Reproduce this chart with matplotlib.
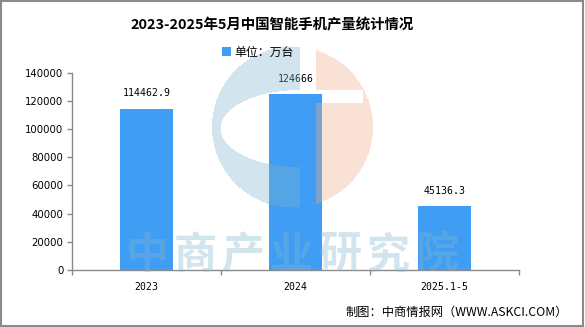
import matplotlib
matplotlib.use("Agg")
import matplotlib.pyplot as plt
from matplotlib.patches import Rectangle
import numpy as np

plt.rcParams['font.family'] = ['Noto Sans CJK SC', 'DejaVu Sans']

# data
categories = ['2023', '2024', '2025.1-5']
values = [114462.9, 124666, 45136.3]
value_labels = ['114462.9', '124666', '45136.3']
y_ticks = [0, 20000, 40000, 60000, 80000, 100000, 120000, 140000]

W, H = 585, 327
BAR_COLOR = '#3f9ef4'
AXIS_GRAY = '#8a8a8a'
MONO = 'DejaVu Sans Mono'

fig = plt.figure(figsize=(W / 100, H / 100), dpi=100)
fig.patch.set_facecolor('white')

ax = fig.add_axes([72 / W, 1 - 270 / H, (519 - 72) / W, (270 - 72.7) / H])
x = np.arange(len(categories))
bars = ax.bar(x, values, width=0.355, color=BAR_COLOR, zorder=2, label='单位：万台')

for xi, v, lab in zip(x, values, value_labels):
    ax.annotate(lab, (xi, v), textcoords='offset points', xytext=(0, 7.5),
                ha='center', va='bottom', fontsize=7.1, family=MONO)

ax.set_xlim(-0.5, len(categories) - 0.5)
ax.set_ylim(0, 140000)
ax.set_yticks(y_ticks)
ax.set_yticklabels([str(t) for t in y_ticks], fontsize=7.3, family='DejaVu Sans')
ax.set_xticks(x)
ax.set_xticklabels(categories, fontsize=7.1, family=MONO)
ax.set_xticks(np.arange(-0.5, len(categories)), minor=True)
ax.tick_params(axis='x', which='major', length=0, pad=8.5)
ax.tick_params(axis='x', which='minor', length=3.6, color=AXIS_GRAY, width=1)
ax.tick_params(axis='y', length=3.6, color=AXIS_GRAY, width=1, pad=2.5)
for s in ['top', 'right']:
    ax.spines[s].set_visible(False)
for s in ['left', 'bottom']:
    ax.spines[s].set_color(AXIS_GRAY)
    ax.spines[s].set_linewidth(1)
ax.set_facecolor('none')

# title, legend, source
fig.text(272 / W, 1 - 25.5 / H, '2023-2025年5月中国智能手机产量统计情况',
         ha='center', va='center', fontsize=10.4, fontweight='bold')
fig.legend(handles=[bars], labels=['单位：万台'], loc='center',
           bbox_to_anchor=(258 / W, 1 - 52.5 / H), frameon=False, fontsize=8.6,
           handlelength=0.75, handleheight=0.75, handletextpad=0.3, borderpad=0)
fig.text(568 / W, 1 - 312.5 / H, '制图：中商情报网（WWW.ASKCI.COM）',
         ha='right', va='center', fontsize=8.8)

# watermark overlay
wm = fig.add_axes([0, 0, 1, 1], zorder=5)
wm.set_xlim(0, W)
wm.set_ylim(H, 0)
wm.axis('off')
wm.patch.set_alpha(0)

yy, xx = np.mgrid[0:H, 0:W] + 0.5
cx, cy, r = 292.5, 127.0, 80.5
in_circle = (xx - cx) ** 2 + (yy - cy) ** 2 <= r ** 2
in_ellipse = ((xx - 300) / 79.3) ** 2 + ((yy - 128.5) / 38.5) ** 2 <= 1
blue_mask = in_circle & (xx <= 300) & ~in_ellipse
gap = (yy >= 90) & (yy <= 103) & (xx <= 363)
peach_mask = in_circle & (xx >= 316) & ~gap
img = np.zeros((H, W, 4))
img[blue_mask] = [0.50, 0.70, 0.81, 0.35]
img[peach_mask] = [0.94, 0.67, 0.54, 0.35]
wm.imshow(img, extent=(0, W, H, 0), interpolation='nearest', aspect='auto')

for i, ch in enumerate('中商产业研究院'):
    wm.text(147 + i * 48.2, 255, ch, ha='center', va='center', fontsize=31,
            fontweight='bold', color=(0.50, 0.70, 0.81), alpha=0.35)

# outer border
fig.patches.append(Rectangle((0.5 / W, 1.5 / H), (W - 3) / W, (H - 2.5) / H,
                             transform=fig.transFigure, fill=False,
                             edgecolor='#8a8a8a', linewidth=1.5, zorder=10))

fig.savefig('out.png', dpi=100)
